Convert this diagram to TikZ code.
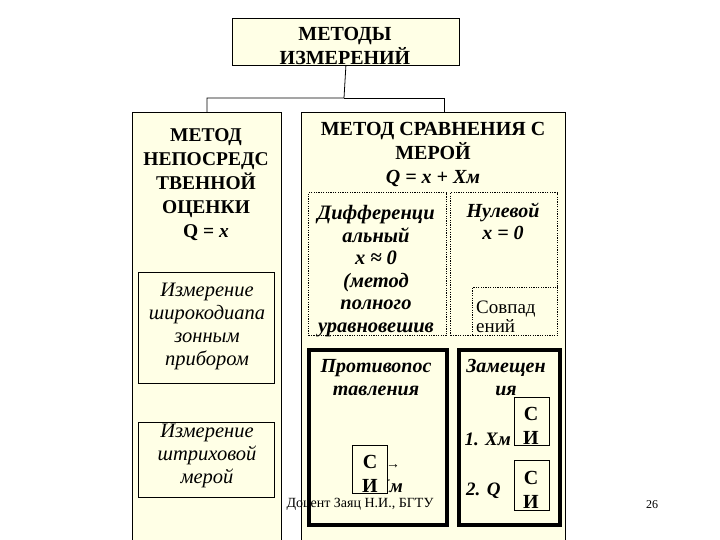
\documentclass[tikz,border=0pt]{standalone}
\usepackage{fontspec}
\setmainfont{Liberation Serif}
\definecolor{cream}{HTML}{FFFFE6}

\begin{document}
\begin{tikzpicture}[x=1pt,y=-1pt,
    box/.style={draw, fill=cream, anchor=north west, inner sep=0pt, line width=0.8pt},
    dotbox/.style={box, line width=1.2pt, dash pattern=on 1.2pt off 1.2pt},
    thickbox/.style={box, line width=3.6pt},
    hd/.style={anchor=base, align=center, inner sep=0pt, font=\bfseries\fontsize{#1}{24}\selectfont},
    bi/.style={anchor=base, align=center, inner sep=0pt, font=\bfseries\itshape\fontsize{#1}{22.5}\selectfont},
    it/.style={anchor=base, align=center, inner sep=0pt, font=\itshape\fontsize{20.5}{23}\selectfont}]
        \useasboundingbox[fill=white] (0,0) rectangle (720,540);
        \clip (0,0) rectangle (720,540);

        % top
        \node[box, minimum width=227pt, minimum height=47pt] (top) at (232,18) {};
        \node[hd=20] (toptxt) at (345,65) {МЕТОДЫ\\ИЗМЕРЕНИЙ};

        % two main boxes
        \node[box, minimum width=149pt, minimum height=448pt] (left) at (132,112) {};
        \node[box, minimum width=264pt, minimum height=448pt] (right) at (301,112) {};
        \coordinate (fork) at (344,98);
        \draw[line width=0.8pt] (top.south) -- (fork) -| (left.north);
        \draw[line width=0.8pt] (fork) -| ([xshift=11pt]right.north);

        % left column
        \node[hd=19.5] (lefttxt) at (206,237) {МЕТОД\\НЕПОСРЕДС\\ТВЕННОЙ\\ОЦЕНКИ\\Q = \textit{x}};
        \node[box, minimum width=136pt, minimum height=111pt] (wide) at (138,272) {};
        \node[it] (widetxt) at (207,365) {Измерение\\широкодиапа\\зонным\\прибором};
        \node[box, minimum width=136pt, minimum height=75pt] (line) at (138,422) {};
        \node[it] (linetxt) at (207,483) {Измерение\\штриховой\\мерой};

        % right column
        \node[hd=20] (righttxt) at (433,184) {МЕТОД СРАВНЕНИЯ С\\МЕРОЙ\\\textit{Q = x + Хм}};
        \node[dotbox, minimum width=138pt, minimum height=143pt] (diff) at (308,192) {};
        \node[bi=20.5] (difftxt) at (376,332) {Дифференци\\альный\\x ≈ 0\\(метод\\полного\\уравновешив};
        \node[dotbox, minimum width=107pt, minimum height=143pt] (zero) at (450,192) {};
        \node[bi=20] (zerotxt) at (503,240) {Нулевой\\x = 0};
        \node[dotbox, minimum width=85pt, minimum height=48pt] (coinc) at (472,287) {};
        \node[anchor=base west, align=left, inner sep=0pt, font=\fontsize{19}{19}\selectfont] (coinctxt) at (476,332) {Совпад\\ений};

        \node[thickbox, minimum width=138pt, minimum height=175pt] (opp) at (307,348) {};
        \node[bi=20] (opptxt) at (376,395) {Противопос\\тавления};
        \node[anchor=base, inner sep=0pt, font=\fontsize{14}{14}\selectfont] (arr) at (393,468) {→};
        \node[anchor=base east, inner sep=0pt, font=\bfseries\itshape\fontsize{19}{19}\selectfont] (xm) at (403,492) {Хм};
        \node[box, minimum width=35pt, minimum height=48pt] (si1) at (352,445) {};
        \node[hd=20] (si1txt) at (370,492) {С\\И};

        \node[thickbox, minimum width=101pt, minimum height=175pt] (subst) at (457,348) {};
        \node[bi=20] (substtxt) at (506,395) {Замещен\\ия};
        \node[box, minimum width=35pt, minimum height=48pt] (si2) at (514,397) {};
        \node[hd=20] (si2txt) at (531,444) {С\\И};
        \node[box, minimum width=35pt, minimum height=50pt] (si3) at (514,460) {};
        \node[hd=20] (si3txt) at (531,508) {С\\И};
        \node[anchor=base east, inner sep=0pt, font=\bfseries\itshape\fontsize{19}{19}\selectfont] (step1) at (511,445) {1. Хм};
        \node[anchor=base west, inner sep=0pt, font=\bfseries\itshape\fontsize{19}{19}\selectfont] (step2) at (466,495) {2. Q};

        % footer
        \node[anchor=base, inner sep=0pt, font=\fontsize{14}{14}\selectfont] (foot) at (360,507) {Доцент Заяц Н.И., БГТУ};
        \node[anchor=base, inner sep=0pt, font=\fontsize{12}{12}\selectfont] (page) at (652,508) {26};
    \end{tikzpicture}
\end{document}
